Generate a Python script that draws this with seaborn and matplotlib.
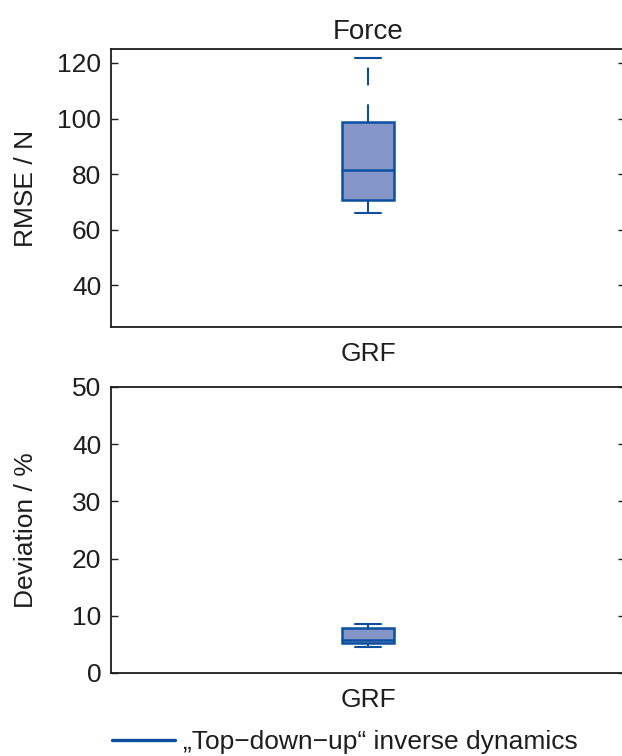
import matplotlib
matplotlib.use("Agg")
import matplotlib.pyplot as plt
from matplotlib.lines import Line2D
import seaborn as sns
import pandas as pd

# ---- data ----
categories = ["GRF"]
rmse_values = [66.0, 70.8, 81.3, 98.9, 121.7]        # min, q1, median, q3, max
deviation_values = [4.6, 5.25, 5.8, 7.95, 8.55]      # min, q1, median, q3, max
rmse_ticks = [40, 60, 80, 100, 120]
dev_ticks = [0, 10, 20, 30, 40, 50]
title = "Force"
ylabel_top = "RMSE / N"
ylabel_bottom = "Deviation / %"
legend_label = "\u201eTop\u2212down\u2212up\u201c inverse dynamics"

edge_color = "#0b4f9f"
fill_color = "#8496c8"
text_color = "#1e1e1e"

sns.set_theme(style="white")
plt.rcParams["font.family"] = ["Liberation Sans", "DejaVu Sans"]
plt.rcParams["axes.edgecolor"] = text_color
plt.rcParams["axes.linewidth"] = 1.3
plt.rcParams["ytick.direction"] = "in"
plt.rcParams["xtick.direction"] = "in"

fig = plt.figure(figsize=(6.22, 7.56), dpi=100)
ax1 = fig.add_axes([111 / 622, 1 - 327 / 756, 514 / 622, 278 / 756])
ax2 = fig.add_axes([111 / 622, 1 - 673 / 756, 514 / 622, 286 / 756])

df_top = pd.DataFrame({"cat": categories * len(rmse_values), "val": rmse_values})
df_bot = pd.DataFrame({"cat": categories * len(deviation_values), "val": deviation_values})

lw = 1.8
box_kw = dict(
    x="cat", y="val", whis=(0, 100), width=0.102, saturation=1,
    color=fill_color, linecolor=edge_color, linewidth=lw, showfliers=False,
    whiskerprops={"linestyle": (0, (8.5, 9.1)), "linewidth": 1.5},
    capprops={"linewidth": 1.5},
)
sns.boxplot(data=df_top, ax=ax1, **box_kw)
sns.boxplot(data=df_bot, ax=ax2, **box_kw)

fs = 19
for ax, ticks, lim, lab in [(ax1, rmse_ticks, (25, 125), ylabel_top),
                            (ax2, dev_ticks, (0, 50), ylabel_bottom)]:
    ax.set_xlim(-0.5, 0.5)
    ax.set_ylim(*lim)
    ax.set_yticks(ticks)
    ax.set_xlabel("")
    ax.set_ylabel(lab, fontsize=fs, color=text_color)
    ax.yaxis.set_label_coords((38 - 111) / 514, 0.5)
    ax.tick_params(axis="y", which="both", direction="in", left=True, right=True,
                   length=5, width=1.0, color=text_color, labelsize=fs,
                   labelcolor=text_color, pad=7)
    ax.tick_params(axis="x", length=0, labelsize=fs, labelcolor=text_color, pad=11)
    for s in ax.spines.values():
        s.set_visible(True)
        s.set_color(text_color)

ax1.set_title(title, fontsize=fs + 1, color=text_color, pad=7)

fig.legend(handles=[Line2D([], [], color=edge_color, lw=2.4)], labels=[legend_label],
           loc="center left", bbox_to_anchor=(112 / 622, 1 - 742 / 756),
           frameon=False, fontsize=19, borderpad=0, borderaxespad=0,
           handlelength=2.4, handletextpad=0.3, labelcolor=text_color)

fig.savefig("out.png", dpi=100)
